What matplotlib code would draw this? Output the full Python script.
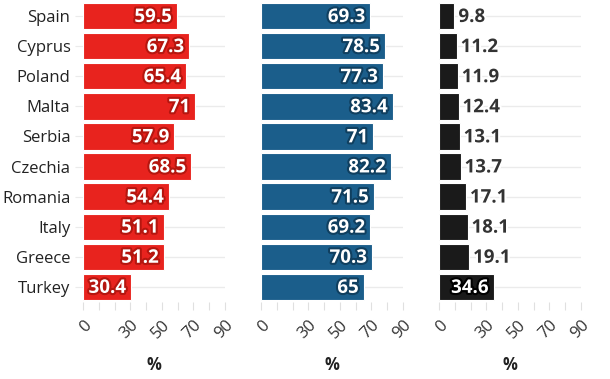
import matplotlib
matplotlib.use('Agg')
import matplotlib.pyplot as plt
import matplotlib.patheffects as pe
import numpy as np

plt.rcParams['font.family'] = ['Open Sans', 'DejaVu Sans']

countries = ['Spain', 'Cyprus', 'Poland', 'Malta', 'Serbia',
             'Czechia', 'Romania', 'Italy', 'Greece', 'Turkey']
red_vals = [59.5, 67.3, 65.4, 71, 57.9, 68.5, 54.4, 51.1, 51.2, 30.4]
blue_vals = [69.3, 78.5, 77.3, 83.4, 71, 82.2, 71.5, 69.2, 70.3, 65]
black_vals = [9.8, 11.2, 11.9, 12.4, 13.1, 13.7, 17.1, 18.1, 19.1, 34.6]

colors = ['#e8231e', '#1b5e8b', '#1a1a1a']
outlines = ['#b5160f', '#103f5f', '#000000']
tick_pos = np.arange(0, 100, 10)
tick_lab = ['0', '', '', '30', '', '50', '', '70', '', '90']

fig = plt.figure(figsize=(6.10, 3.79), dpi=100)
lefts = [83/610, 261/610, 439/610]
w = 142/610
bottom = 1 - 302/379
h = 301/379

y = np.arange(len(countries))
for i, vals in enumerate([red_vals, blue_vals, black_vals]):
    ax = fig.add_axes([lefts[i], bottom, w, h])
    for yy in y:
        ax.axhline(yy, color='#ebebeb', lw=1, zorder=0)
    ax.barh(y, vals, height=0.88, color=colors[i], edgecolor='white', lw=0.8, zorder=2)
    ax.set_xlim(0, 90)
    ax.set_ylim(9.5, -0.5)
    for s in ax.spines.values():
        s.set_visible(False)
    ax.set_xticks(tick_pos)
    ax.set_xticklabels(tick_lab, rotation=45, ha='right', rotation_mode='anchor')
    ax.tick_params(axis='x', colors='#e0e0e0', length=6, labelcolor='#333333',
                   labelsize=12, pad=5)
    if i == 0:
        ax.set_yticks(y)
        ax.set_yticklabels(countries)
        ax.tick_params(axis='y', length=6, color='#ebebeb', labelcolor='#222222',
                       labelsize=12, pad=3)
    else:
        ax.set_yticks([])
    ax.set_xlabel('%', fontweight='bold', fontsize=12, color='#222222', labelpad=10)
    for yy, v in zip(y, vals):
        txt = '{:g}'.format(v)
        if i < 2 or v > 30:
            ax.text(v - 3, yy + 0.03, txt, ha='right', va='center', color='white',
                    fontsize=13.5, fontweight='bold', zorder=3,
                    path_effects=[pe.withStroke(linewidth=3, foreground=outlines[i])])
        else:
            ax.text(v + 2.5, yy + 0.03, txt, ha='left', va='center', color='#333333',
                    fontsize=13.5, fontweight='bold', zorder=3,
                    path_effects=[pe.withStroke(linewidth=3, foreground='white')])

fig.savefig('out.png', dpi=100)
